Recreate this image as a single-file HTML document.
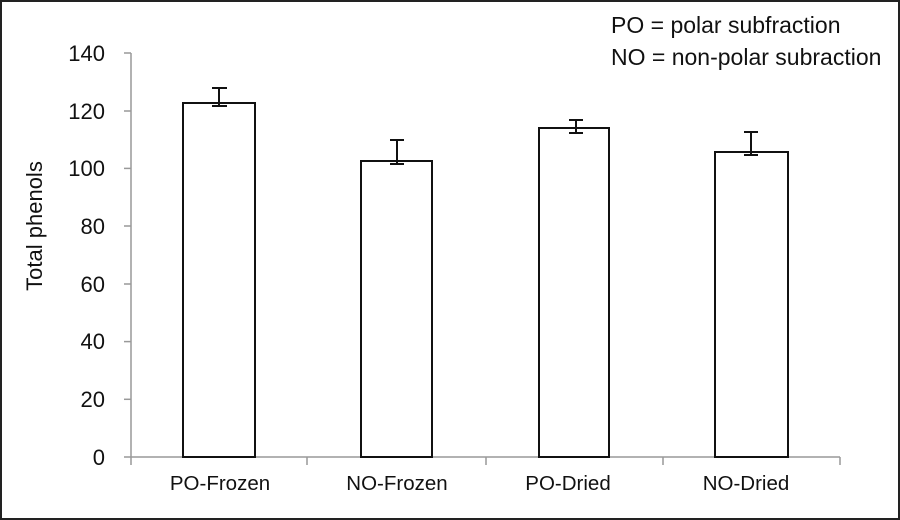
<!DOCTYPE html>
<html><head><style>
html,body{margin:0;padding:0;background:#fff;}
svg{display:block;}
text{font-family:"Liberation Sans",Arial,sans-serif;fill:#111;}
</style></head><body>
<svg width="900" height="520" viewBox="0 0 900 520">
<rect x="1" y="1" width="898" height="518" fill="#fff" stroke="#222" stroke-width="2"/>
<g stroke="#999" stroke-width="1.5">
<line x1="131" y1="53" x2="131" y2="457"/>
<line x1="131" y1="457" x2="840" y2="457"/>
<line x1="124" y1="53" x2="131" y2="53"/>
<line x1="124" y1="111" x2="131" y2="111"/>
<line x1="124" y1="168.4" x2="131" y2="168.4"/>
<line x1="124" y1="226" x2="131" y2="226"/>
<line x1="124" y1="284" x2="131" y2="284"/>
<line x1="124" y1="341.6" x2="131" y2="341.6"/>
<line x1="124" y1="399.3" x2="131" y2="399.3"/>
<line x1="124" y1="457" x2="131" y2="457"/>
<line x1="131" y1="457" x2="131" y2="465"/>
<line x1="307" y1="457" x2="307" y2="465"/>
<line x1="486" y1="457" x2="486" y2="465"/>
<line x1="663" y1="457" x2="663" y2="465"/>
<line x1="840" y1="457" x2="840" y2="465"/>
</g>
<g font-size="22" text-anchor="end">
<text x="105" y="61">140</text><text x="105" y="119">120</text><text x="105" y="176">100</text>
<text x="105" y="234">80</text><text x="105" y="292">60</text><text x="105" y="349">40</text>
<text x="105" y="407">20</text><text x="105" y="465">0</text>
</g>
<text font-size="22" text-anchor="middle" transform="translate(42,226) rotate(-90)">Total phenols</text>
<g fill="#fff" stroke="#111" stroke-width="2">
<rect x="183" y="103" width="72" height="354"/>
<rect x="361" y="161" width="71" height="296"/>
<rect x="539" y="128" width="70" height="329"/>
<rect x="715" y="152" width="73" height="305"/>
</g>
<g stroke="#111" stroke-width="2">
<line x1="219" y1="88" x2="219" y2="106"/><line x1="212" y1="88" x2="227" y2="88"/><line x1="212" y1="106" x2="227" y2="106"/>
<line x1="397" y1="140" x2="397" y2="164"/><line x1="390" y1="140" x2="404" y2="140"/><line x1="390" y1="164" x2="404" y2="164"/>
<line x1="576" y1="120" x2="576" y2="133"/><line x1="569" y1="120" x2="583" y2="120"/><line x1="569" y1="133" x2="583" y2="133"/>
<line x1="751" y1="132" x2="751" y2="155"/><line x1="744" y1="132" x2="758" y2="132"/><line x1="744" y1="155" x2="758" y2="155"/>
</g>
<g font-size="20.5" text-anchor="middle">
<text x="220" y="490">PO-Frozen</text>
<text x="397" y="490">NO-Frozen</text>
<text x="568" y="490">PO-Dried</text>
<text x="746" y="490">NO-Dried</text>
</g>
<g font-size="23">
<text x="611" y="33">PO = polar subfraction</text>
<text x="611" y="65">NO = non-polar subraction</text>
</g>
</svg>
</body></html>
